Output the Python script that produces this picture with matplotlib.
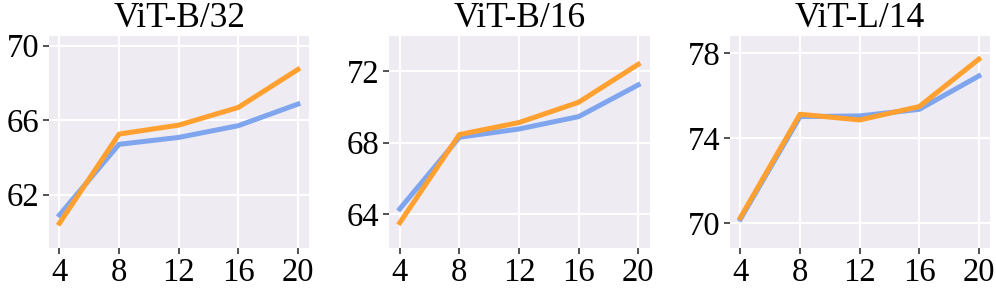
import matplotlib
matplotlib.use("Agg")
import matplotlib.pyplot as plt

plt.rcParams['font.family'] = ['Liberation Serif', 'DejaVu Serif']

x = [4, 8, 12, 16, 20]
titles = ["ViT-B/32", "ViT-B/16", "ViT-L/14"]

blue_b32 = [60.9, 64.7, 65.07, 65.7, 66.86]
orange_b32 = [60.46, 65.25, 65.73, 66.68, 68.72]
blue_b16 = [64.3, 68.3, 68.76, 69.45, 71.22]
orange_b16 = [63.53, 68.45, 69.12, 70.25, 72.37]
blue_l14 = [70.2, 75.02, 75.05, 75.36, 76.93]
orange_l14 = [70.27, 75.13, 74.86, 75.49, 77.72]

yticks = [[62, 66, 70], [64, 68, 72], [70, 74, 78]]
ylims = [(59.13, 70.52), (62.12, 73.95), (68.84, 78.81)]

blues = [blue_b32, blue_b16, blue_l14]
oranges = [orange_b32, orange_b16, orange_l14]

fig = plt.figure(figsize=(9.96, 2.94), dpi=100)
lefts = [0.0492, 0.3909, 0.7329]

for i in range(3):
    ax = fig.add_axes([lefts[i], 0.1565, 0.2614, 0.7211])
    ax.set_facecolor('#EEEBF3')
    ax.grid(True, color='white', linewidth=1.5)
    ax.set_axisbelow(True)
    for s in ax.spines.values():
        s.set_visible(False)
    ax.plot(x, blues[i], color='#7FA5EE', linewidth=3.6)
    ax.plot(x, oranges[i], color='#FFA030', linewidth=3.6)
    ax.set_xticks(x)
    ax.set_yticks(yticks[i])
    ax.set_ylim(ylims[i])
    ax.set_xlim(3.3, 20.77)
    ax.tick_params(labelsize=23.5, length=4, width=1.2, color='#333333', pad=3)
    ax.set_title(titles[i], fontsize=25.5, pad=6.5)

fig.savefig("out.png", dpi=100)
